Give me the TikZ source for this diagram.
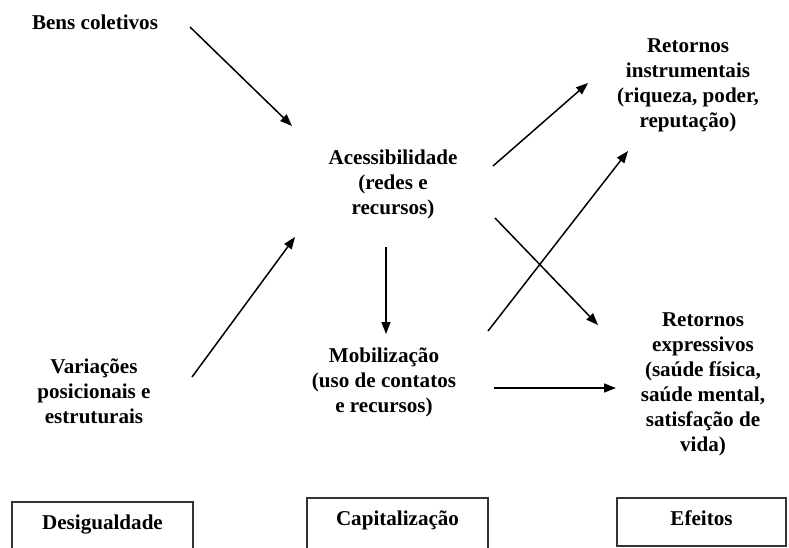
\documentclass[tikz,border=0pt]{standalone}
\usepackage{fontspec}
\setmainfont{Liberation Serif}
\usetikzlibrary{arrows.meta,calc}
\tikzset{
  rotulo/.style={font=\bfseries\fontsize{18}{21.3}\selectfont,align=center,inner sep=0pt},
  seta/.style={-{Triangle[length=0.36cm,width=0.27cm]},line width=0.045cm,color=black},
  caixa/.style={rotulo,draw=black!80,line width=0.045cm,inner xsep=0pt,inner ysep=0.42cm,
                text height=0.42cm,anchor=north},
}

\begin{document}
\begin{tikzpicture}[x=0.03cm,y=-0.03cm]
  \useasboundingbox (0,0) rectangle (789,547);
  \clip (0,0) rectangle (789,547);

  % blocos de texto
  \node[rotulo] (bens)   at (95,22)   {Bens coletivos};
  \node[rotulo] (variac) at (94,391)  {Variações\\posicionais e\\estruturais};
  \node[rotulo] (acess)  at (393,184) {Acessibilidade\\(redes e\\recursos)};
  \node[rotulo] (mobil)  at (384,382) {Mobilização\\(uso de contatos\\e recursos)};
  \node[rotulo] (rinst)  at (688,85)  {Retornos\\instrumentais\\(riqueza, poder,\\reputação)};
  \node[rotulo] (rexpr)  at (703,384) {Retornos\\expressivos\\(saúde física,\\saúde mental,\\satisfação de\\vida)};

  % caixas de rodape
  \node[caixa,minimum width=5.43cm,text depth=0.6cm]  (desig) at (102.5,501) {Desigualdade};
  \node[caixa,minimum width=5.43cm,text depth=0.6cm]  (capit) at (397.5,497) {Capitalização};
  \node[caixa,minimum width=5.07cm,text depth=0.18cm] (efeit) at (701.5,497) {Efeitos};

  % setas
  \draw[seta] ($(bens)+(95,5)$)     -- ($(acess)+(-101,-58)$);
  \draw[seta] ($(variac)+(98,-14)$) -- ($(acess)+(-98,53)$);
  \draw[seta] ($(acess)+(-7,63)$)   -- ($(mobil)+(2,-48)$);
  \draw[seta] ($(acess)+(100,-18)$) -- ($(rinst)+(-100,-2)$);
  \draw[seta] ($(acess)+(102,34)$)  -- ($(rexpr)+(-105,-59)$);
  \draw[seta] ($(mobil)+(104,-51)$) -- ($(rinst)+(-60,66)$);
  \draw[seta] ($(mobil)+(110,6)$)   -- ($(rexpr)+(-87,4)$);
\end{tikzpicture}
\end{document}
